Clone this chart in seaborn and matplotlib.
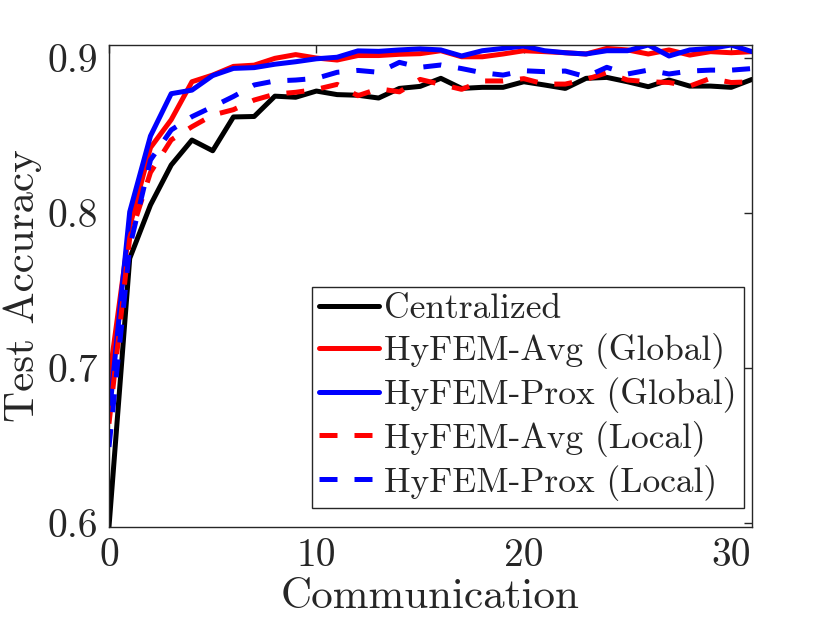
import numpy as np
import pandas as pd
import seaborn as sns
import matplotlib.pyplot as plt

# --- data (test accuracy per communication round) ---
rounds = list(range(32))

centralized = [0.5974, 0.7706, 0.8050, 0.8308, 0.8469, 0.8400, 0.8618, 0.8621,
               0.8752, 0.8745, 0.8785, 0.8762, 0.8758, 0.8740, 0.8802, 0.8815,
               0.8867, 0.8802, 0.8809, 0.8809, 0.8845, 0.8824, 0.8802, 0.8867,
               0.8873, 0.8845, 0.8813, 0.8856, 0.8817, 0.8817, 0.8809, 0.8860]
avg_global = [0.6920, 0.7910, 0.8420, 0.8600, 0.8845, 0.8888, 0.8944, 0.8952,
              0.8996, 0.9020, 0.8998, 0.8985, 0.9014, 0.9014, 0.9022, 0.9026,
              0.9045, 0.9006, 0.9006, 0.9024, 0.9045, 0.9039, 0.9032, 0.9024,
              0.9060, 0.9050, 0.9024, 0.9050, 0.9017, 0.9039, 0.9032, 0.9039]
prox_global = [0.6680, 0.8006, 0.8495, 0.8768, 0.8791, 0.8885, 0.8931, 0.8936,
               0.8958, 0.8974, 0.8993, 0.9003, 0.9044, 0.9041, 0.9050, 0.9057,
               0.9050, 0.9011, 0.9045, 0.9060, 0.9075, 0.9045, 0.9032, 0.9024,
               0.9045, 0.9045, 0.9082, 0.9011, 0.9050, 0.9060, 0.9082, 0.9039]
avg_local = [0.6640, 0.7840, 0.8260, 0.8470, 0.8555, 0.8630, 0.8665, 0.8727,
             0.8765, 0.8777, 0.8796, 0.8828, 0.8755, 0.8800, 0.8780, 0.8860,
             0.8828, 0.8796, 0.8850, 0.8850, 0.8865, 0.8830, 0.8830, 0.8860,
             0.8903, 0.8856, 0.8845, 0.8840, 0.8817, 0.8867, 0.8840, 0.8845]
prox_local = [0.6490, 0.7780, 0.8340, 0.8534, 0.8620, 0.8684, 0.8750, 0.8824,
              0.8850, 0.8856, 0.8867, 0.8906, 0.8918, 0.8906, 0.8970, 0.8938,
              0.8953, 0.8930, 0.8903, 0.8888, 0.8916, 0.8910, 0.8914, 0.8877,
              0.8938, 0.8895, 0.8920, 0.8895, 0.8914, 0.8920, 0.8920, 0.8930]

labels = ['Centralized', 'HyFEM-Avg (Global)', 'HyFEM-Prox (Global)',
          'HyFEM-Avg (Local)', 'HyFEM-Prox (Local)']
x_ticks = [0, 10, 20, 30]
y_ticks = [0.6, 0.7, 0.8, 0.9]
y_tick_labels = ['0.6', '0.7', '0.8', '0.9']

# --- style ---
sns.set_style('white')
plt.rcParams['font.family'] = ['cmr10', 'DejaVu Serif']
plt.rcParams['mathtext.fontset'] = 'cm'
plt.rcParams['axes.formatter.use_mathtext'] = True

fig = plt.figure(figsize=(8.3, 6.18), dpi=100)
ax = fig.add_axes([0.1313, 0.1473, 0.7747, 0.7799])

series = [centralized, avg_global, prox_global, avg_local, prox_local]
colors = ['black', 'red', 'blue', 'red', 'blue']
dashed = (0, (3.6, 3.4))
styles = ['-', '-', '-', dashed, dashed]

for vals, lab, col, ls in zip(series, labels, colors, styles):
    sns.lineplot(x=rounds, y=vals, color=col, linestyle=ls, lw=3.6,
                 label=lab, ax=ax, dash_capstyle='butt')

ax.set_xlim(0, 31)
ax.set_ylim(0.5974, 0.9082)
ax.set_xticks(x_ticks)
ax.set_xticklabels([str(t) for t in x_ticks])
ax.set_yticks(y_ticks)
ax.set_yticklabels(y_tick_labels)
ax.tick_params(direction='in', length=6, width=1, colors='#262626',
               labelsize=28.5, top=True, right=True, pad=8)
for lbl in ax.get_xticklabels() + ax.get_yticklabels():
    lbl.set_color('#262626')
for sp in ax.spines.values():
    sp.set_color('#262626')
    sp.set_linewidth(1)

ax.set_xlabel('Communication', fontsize=31, color='#262626', labelpad=3)
ax.set_ylabel('Test Accuracy', fontsize=31, color='#262626', labelpad=4)

leg = ax.legend(loc='lower right', bbox_to_anchor=(0.9876, 0.04),
                borderaxespad=0, fontsize=25.5, frameon=True, fancybox=False,
                framealpha=1, edgecolor='#262626', handlelength=1.7,
                handletextpad=0.15, labelspacing=0.22, borderpad=0.2)
leg.get_frame().set_linewidth(1)

fig.savefig('out.png', dpi=100)
